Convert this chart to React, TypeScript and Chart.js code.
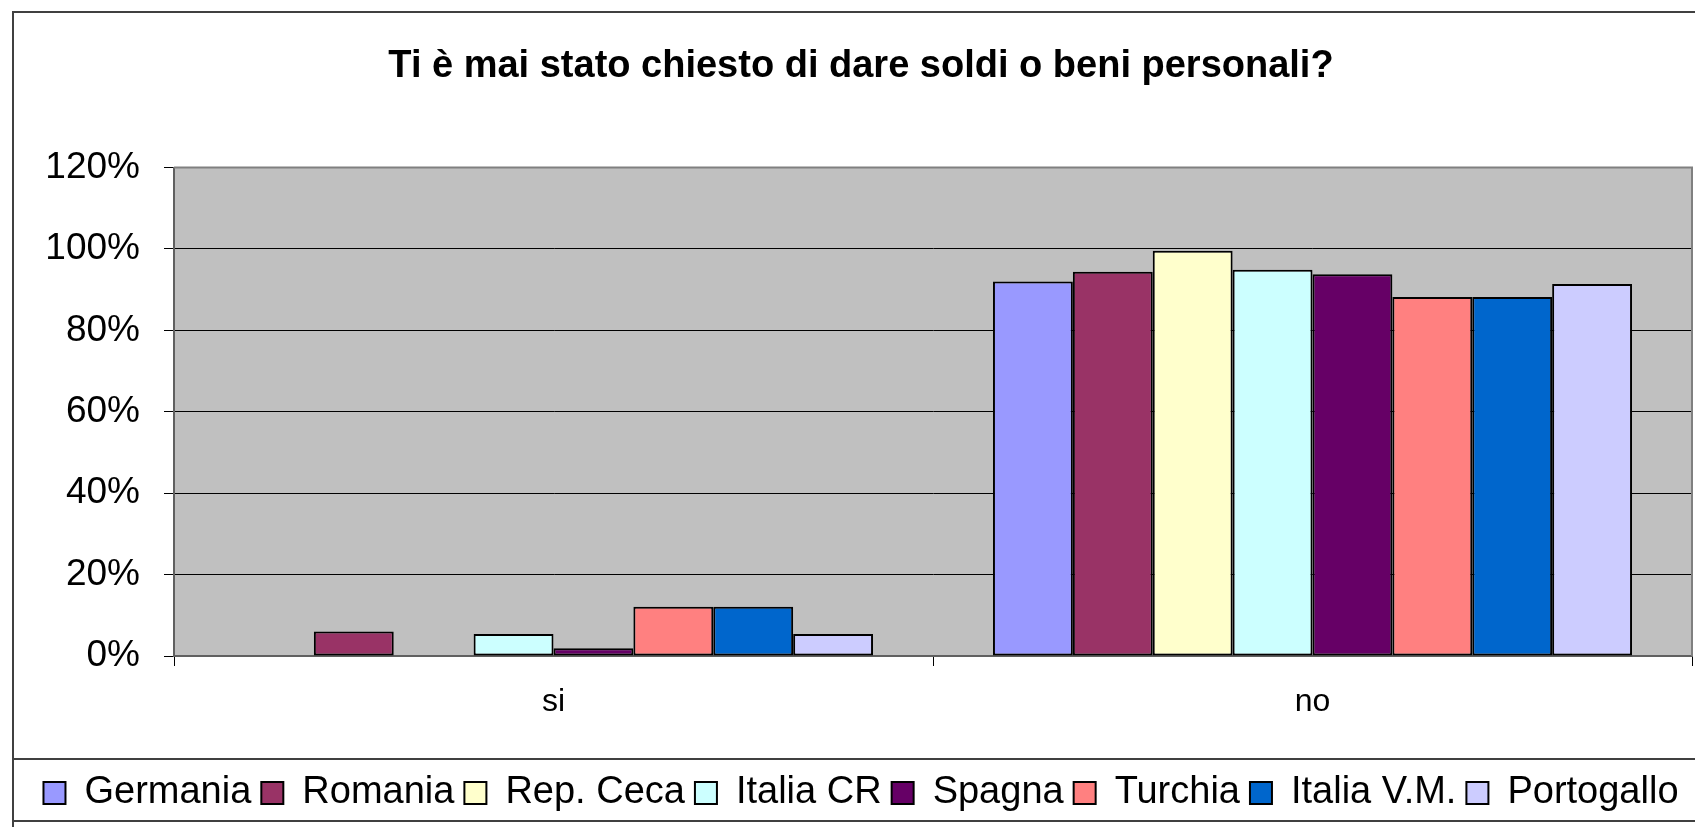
import React, { useEffect, useRef } from "react";
import { Chart, registerables } from "chart.js";

Chart.register(...registerables);

const titleText = "Ti è mai stato chiesto di dare soldi o beni personali?";
const categories = ["si", "no"];
const seriesNames = ["Germania", "Romania", "Rep. Ceca", "Italia CR", "Spagna", "Turchia", "Italia V.M.", "Portogallo"];
const germania = [0, 92.0];
const romania = [6.0, 94.4];
const repCeca = [0, 99.6];
const italiaCR = [5.4, 94.9];
const spagna = [1.9, 93.8];
const turchia = [12.1, 88.2];
const italiaVM = [12.1, 88.2];
const portogallo = [5.4, 91.4];
const seriesValues = [germania, romania, repCeca, italiaCR, spagna, turchia, italiaVM, portogallo];
const seriesColors = ["#9999FF", "#993366", "#FFFFCC", "#CCFFFF", "#660066", "#FF8080", "#0066CC", "#CCCCFF"];
const yMin = 0;
const yMax = 120;
const yStep = 20;

const FONT = "'Liberation Sans', Arial, Helvetica, sans-serif";

const framePlugin = {
  id: "frame",
  beforeDraw(chart: any) {
    const { ctx, chartArea, width, height } = chart;
    ctx.save();
    ctx.fillStyle = "#ffffff";
    ctx.fillRect(0, 0, width, height);
    ctx.fillStyle = "#C0C0C0";
    ctx.fillRect(chartArea.left, chartArea.top, chartArea.right - chartArea.left, chartArea.bottom - chartArea.top);
    ctx.restore();
  },
  afterDraw(chart: any) {
    const { ctx, chartArea, width, height } = chart;
    ctx.save();
    ctx.strokeStyle = "#404040";
    ctx.lineWidth = 2;
    ctx.strokeRect(13, 12, width + 20, height + 20);
    ctx.strokeStyle = "#808080";
    ctx.lineWidth = 2;
    ctx.beginPath();
    ctx.moveTo(chartArea.left, chartArea.top);
    ctx.lineTo(chartArea.right, chartArea.top);
    ctx.lineTo(chartArea.right, chartArea.bottom);
    ctx.stroke();
    ctx.strokeStyle = "#404040";
    ctx.lineWidth = 2;
    ctx.beginPath();
    ctx.moveTo(13, 759);
    ctx.lineTo(width, 759);
    ctx.moveTo(13, 821);
    ctx.lineTo(width, 821);
    ctx.stroke();
    ctx.restore();
  },
};

function ChartView() {
  const ref = useRef<HTMLCanvasElement | null>(null);
  useEffect(() => {
    if (!ref.current) return;
    Chart.defaults.font.family = FONT;
    Chart.defaults.color = "#000";
    const chart = new Chart(ref.current, {
      type: "bar",
      data: {
        labels: categories,
        datasets: seriesNames.map((name, i) => ({
          label: name,
          data: seriesValues[i],
          backgroundColor: seriesColors[i],
          borderColor: "#000000",
          borderWidth: 2,
          borderSkipped: false,
          categoryPercentage: 0.842,
          barPercentage: 1.0,
        })),
      },
      options: {
        responsive: false,
        animation: false,
        events: [],
        layout: { padding: { left: 30, right: 3, top: 0, bottom: 5 } },
        plugins: {
          tooltip: { enabled: false },
          title: {
            display: true,
            text: titleText,
            color: "#000",
            font: { size: 38, weight: "bold", family: FONT },
            padding: { top: 44, bottom: 78 },
          },
          legend: {
            display: true,
            position: "bottom",
            labels: {
              color: "#000",
              font: { size: 38, family: FONT },
              boxWidth: 22,
              boxHeight: 22,
              padding: 10,
            },
          },
        },
        scales: {
          x: {
            offset: true,
            afterFit: (s: any) => {
              s.height = 108;
            },
            grid: {
              display: true,
              offset: true,
              drawOnChartArea: false,
              drawTicks: true,
              tickLength: 10,
              color: "#000",
              lineWidth: 1,
            },
            border: { display: true, color: "#606060", width: 2 },
            ticks: { color: "#000", font: { size: 32, family: FONT }, padding: 17 },
          },
          y: {
            min: yMin,
            max: yMax,
            afterFit: (s: any) => {
              s.width = 144;
            },
            grid: {
              color: (c: any) => (c.tick && c.tick.value === yMax ? "#808080" : "#000"),
              tickColor: "#000",
              lineWidth: 1,
              tickLength: 10,
            },
            border: { display: true, color: "#606060", width: 2 },
            ticks: {
              stepSize: yStep,
              color: "#000",
              font: { size: 37, family: FONT },
              padding: 24,
              callback: (v: any) => `${v}%`,
            },
          },
        },
      },
      plugins: [framePlugin],
    });
    return () => chart.destroy();
  }, []);
  return <canvas ref={ref} width={1695} height={827} style={{ display: "block", width: 1695, height: 827 }} />;
}

export default function App() {
  return (
    <div style={{ position: "fixed", left: 0, top: 0, width: 1695, height: 827, background: "#fff" }}>
      <ChartView />
    </div>
  );
}
